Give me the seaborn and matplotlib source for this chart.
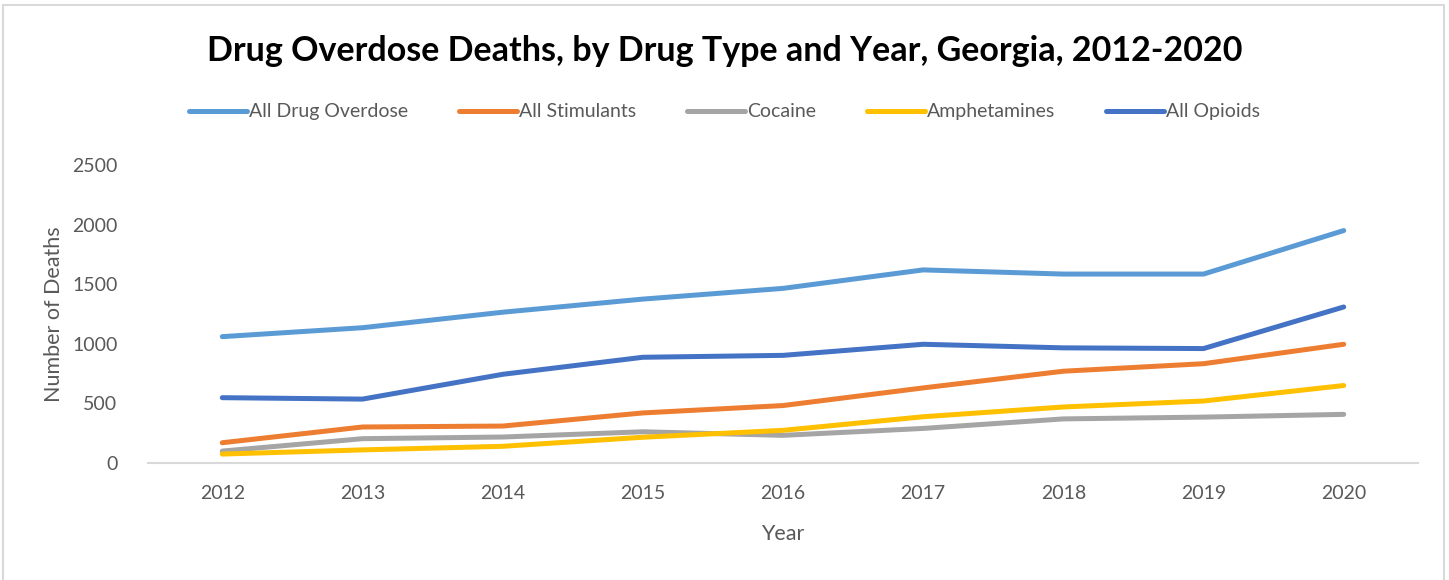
import matplotlib
matplotlib.use("Agg")
import matplotlib.pyplot as plt
import seaborn as sns
import pandas as pd
from matplotlib.patches import Rectangle

years = [2012, 2013, 2014, 2015, 2016, 2017, 2018, 2019, 2020]
all_drug_overdose = [1060, 1135, 1265, 1375, 1465, 1620, 1585, 1585, 1950]
all_stimulants = [170, 302, 310, 420, 482, 630, 770, 833, 996]
cocaine = [100, 204, 218, 262, 232, 290, 370, 385, 408]
amphetamines = [75, 110, 140, 216, 274, 388, 470, 520, 650]
all_opioids = [548, 536, 744, 887, 903, 996, 966, 960, 1309]

series_names = ["All Drug Overdose", "All Stimulants", "Cocaine", "Amphetamines", "All Opioids"]
series_values = [all_drug_overdose, all_stimulants, cocaine, amphetamines, all_opioids]
colors = ["#5B9BD5", "#ED7D31", "#A5A5A5", "#FFC000", "#4472C4"]

rows = []
for name, vals in zip(series_names, series_values):
    for y, v in zip(years, vals):
        rows.append({"Year": y, "Deaths": v, "Series": name})
df = pd.DataFrame(rows)

sns.set_theme(style="white")
plt.rcParams['font.family'] = ['Lato', 'DejaVu Sans']

fig = plt.figure(figsize=(14.49, 5.80), dpi=100)
ax = fig.add_axes([148/1449, 1 - 463/580, (1418-148)/1449, (463-165)/580])

sns.lineplot(data=df, x="Year", y="Deaths", hue="Series", hue_order=series_names,
             palette=colors, linewidth=3.6, ax=ax, solid_capstyle="round",
             solid_joinstyle="round")

ax.set_ylim(0, 2500)
ax.set_xlim(2011.47, 2020.53)
ax.set_xticks(years)
ax.set_xticklabels([str(y) for y in years])
ax.set_yticks([0, 500, 1000, 1500, 2000, 2500])
ax.tick_params(axis='both', labelsize=14, colors="#595959", length=0)
ax.tick_params(axis='x', pad=16)
ax.tick_params(axis='y', pad=22)
for s in ["top", "right", "left"]:
    ax.spines[s].set_visible(False)
ax.spines["bottom"].set_color("#D9D9D9")
ax.spines["bottom"].set_linewidth(1.5)
ax.grid(False)

ax.set_xlabel("Year", fontsize=15.5, color="#595959", labelpad=16)
ax.set_ylabel("Number of Deaths", fontsize=15.5, color="#595959", labelpad=6)

handles, labels = ax.get_legend_handles_labels()
ax.get_legend().remove()
fig.legend(handles, labels, loc="center", bbox_to_anchor=(0.5, 1 - 112/580), ncol=5,
           frameon=False, fontsize=14, handlelength=3.0, handletextpad=0.1,
           columnspacing=2.6, labelcolor="#595959")

fig.text(0.5, 1 - 51/580, "Drug Overdose Deaths, by Drug Type and Year, Georgia, 2012-2020",
         ha="center", va="center", fontsize=24.5, fontweight="bold", color="black")

fig.patches.append(Rectangle((3/1449, -0.01), 1441/1449, 1 - 5/580 + 0.01,
                             transform=fig.transFigure, fill=False,
                             edgecolor="#D9D9D9", linewidth=1.5))

fig.savefig("out.png", dpi=100)
